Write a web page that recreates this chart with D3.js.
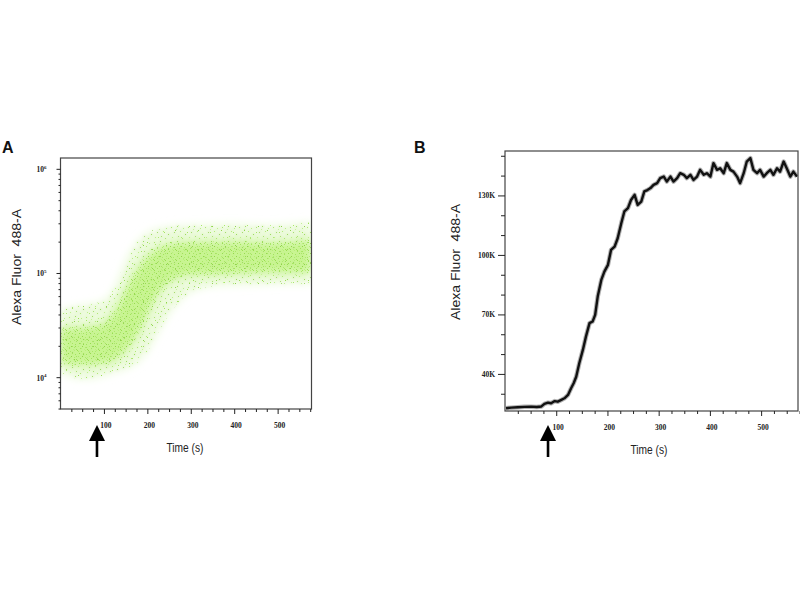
<!DOCTYPE html>
<html>
<head>
<meta charset="utf-8">
<script src="https://cdn.jsdelivr.net/npm/d3@7"></script>
<style>
  body { margin: 0; background: #fff; }
  svg { display: block; }
</style>
</head>
<body>
<div id="chart"></div>
<script>
// ---- Panel A: envelope of the dot cloud, Alexa Fluor 488-A (log) vs time ----
const timesA   = [0, 25, 50, 75, 100, 125, 150, 175, 200, 225, 250, 275, 300, 350, 400, 450, 500, 550, 578];
const outerHiA = [4.4e4, 4.7e4, 4.9e4, 5.1e4, 5.3e4, 6.8e4, 1.38e5, 1.99e5, 2.48e5, 2.67e5, 2.77e5, 2.87e5, 2.87e5, 2.92e5, 2.98e5, 2.87e5, 2.87e5, 2.98e5, 3.09e5];
const outerLoA = [1.12e4, 9.8e3, 9.6e3, 9.7e3, 1.03e4, 1.11e4, 1.19e4, 1.33e4, 1.69e4, 2.72e4, 4.08e4, 5.5e4, 6.8e4, 7.6e4, 7.6e4, 7.7e4, 7.9e4, 7.9e4, 7.9e4];
const coreHiA  = [3.0e4, 3.0e4, 3.0e4, 3.1e4, 3.2e4, 4.2e4, 7.1e4, 1.1e5, 1.48e5, 1.78e5, 1.91e5, 1.99e5, 2.0e5, 2.0e5, 2.05e5, 2.0e5, 1.95e5, 2.05e5, 2.1e5];
const coreLoA  = [1.35e4, 1.3e4, 1.3e4, 1.3e4, 1.35e4, 1.4e4, 1.75e4, 2.35e4, 3.9e4, 6.6e4, 8.2e4, 9.2e4, 9.5e4, 9.5e4, 9.8e4, 1.0e5, 1.0e5, 1.0e5, 1.0e5];
const yTicksA  = [1e4, 1e5, 1e6];
const yTickExpA = ["4", "5", "6"];

// ---- Panel B: mean fluorescence trace (thousands) ----
const timesB = [2, 12, 25, 38, 51, 62, 71, 77, 84, 90, 97, 103, 110, 116, 123, 129, 134, 139, 145, 152,
  158, 165, 171, 176, 181, 188, 194, 201, 207, 214, 220, 227, 233, 240, 246, 253, 259, 266, 272, 278,
  284, 290, 297, 303, 310, 316, 323, 329, 336, 342, 349, 355, 362, 368, 375, 381, 388, 394, 401, 407,
  414, 420, 427, 433, 440, 446, 453, 459, 466, 472, 479, 485, 492, 498, 505, 511, 518, 524, 531, 537,
  544, 550, 557, 563, 570];
const valuesB = [22.7, 23.0, 23.2, 23.4, 23.5, 23.3, 23.6, 24.9, 25.5, 25.2, 26.3, 26.0, 26.9, 27.7, 29.4, 32.8, 35.3, 38.6, 45.4, 52.1,
  58.8, 65.6, 66.4, 69.8, 79.0, 87.4, 91.6, 95.0, 102.5, 104.2, 108.4, 116.0, 121.9, 123.6, 127.7, 130.3, 125.2, 126.9, 132.0, 132.7,
  133.7, 135.3, 136.2, 138.7, 139.5, 137.0, 139.5, 137.0, 138.7, 141.2, 140.4, 138.7, 140.4, 137.8, 139.5, 142.9, 140.4, 141.2, 139.5, 146.3,
  142.9, 143.7, 141.2, 146.3, 142.9, 142.0, 139.5, 136.2, 141.2, 147.1, 148.8, 142.9, 141.2, 142.9, 139.5, 141.2, 142.9, 140.4, 143.7, 142.0,
  147.1, 143.7, 139.5, 142.0, 139.5];
const yTicksB = [40, 70, 100, 130];
const yTickLabelsB = ["40K", "70K", "100K", "130K"];

// shared
const xTicksMajor = [100, 200, 300, 400, 500];
const arrowTime = 84;   // stimulus added

const width = 800, height = 600;
const svg = d3.select("#chart").append("svg")
    .attr("width", width)
    .attr("height", height)
    .attr("viewBox", [0, 0, width, height]);
const defs = svg.append("defs");

// plot frames
const fA = {left: 60.5, right: 311.5, top: 158, bottom: 409};
const fB = {left: 505, right: 798, top: 151, bottom: 411};

const xA = d3.scaleLinear().domain([0, 578]).range([fA.left, fA.right]);
const yA = d3.scaleLog().domain([4950, 1.27e6]).range([fA.bottom, fA.top]);
const xB = d3.scaleLinear().domain([0, 572]).range([fB.left, fB.right]);
const yB = d3.scaleLinear().domain([21.3, 152.4]).range([fB.bottom, fB.top]);

// dot textures for the scatter cloud (style only)
function dotPattern(id, w, h, dots) {
    defs.append("pattern")
        .attr("id", id)
        .attr("patternUnits", "userSpaceOnUse")
        .attr("width", w)
        .attr("height", h)
      .selectAll("rect")
      .data(dots)
      .join("rect")
        .attr("x", d => d[0])
        .attr("y", d => d[1])
        .attr("width", 1)
        .attr("height", 1)
        .attr("fill", d => d[2]);
}
dotPattern("sparse1", 17, 15, [
    [1, 2, "#9fe35a"], [7, 1, "#8fd84a"], [13, 3, "#b2ec74"], [4, 7, "#96d457"], [10, 6, "#a8e866"],
    [15, 9, "#8bd544"], [2, 12, "#b6ee7c"], [8, 11, "#9ddc5e"], [12, 13, "#a2e35f"], [6, 4, "#c0f08e"]]);
dotPattern("sparse2", 23, 19, [
    [3, 4, "#a6e563"], [14, 2, "#93d650"], [20, 9, "#b0ea72"], [9, 14, "#9bdc57"], [17, 16, "#a9e86a"], [5, 17, "#8fd24e"]]);
dotPattern("dense", 11, 10, [
    [0, 0, "#93dc46"], [4, 1, "#a6e65e"], [8, 0, "#b4ee72"], [2, 3, "#8ed744"], [6, 3, "#a2e05a"],
    [9, 4, "#9ce252"], [1, 6, "#b0ea6e"], [5, 6, "#88d03f"], [8, 7, "#a8e864"], [3, 8, "#9fe056"],
    [7, 9, "#b8f07c"], [10, 9, "#94da4c"]]);

const soft = defs.append("filter").attr("id", "soft")
    .attr("x", "-20%").attr("y", "-20%").attr("width", "140%").attr("height", "140%");
soft.append("feGaussianBlur").attr("stdDeviation", 4);

const soft2 = defs.append("filter").attr("id", "soft2")
    .attr("x", "-20%").attr("y", "-20%").attr("width", "140%").attr("height", "140%");
soft2.append("feGaussianBlur").attr("stdDeviation", 1.5);

defs.append("clipPath").attr("id", "clipA").append("rect")
    .attr("x", fA.left).attr("y", fA.top)
    .attr("width", fA.right - fA.left).attr("height", fA.bottom - fA.top);
defs.append("clipPath").attr("id", "clipB").append("rect")
    .attr("x", fB.left).attr("y", fB.top)
    .attr("width", fB.right - fB.left).attr("height", fB.bottom - fB.top);

// ---------- Panel A ----------
const bandA = (lo, hi) => d3.area()
    .x((d, i) => xA(timesA[i]))
    .y0((d, i) => yA(lo[i]))
    .y1((d, i) => yA(hi[i]))
    .curve(d3.curveBasis)(timesA);

const cloud = svg.append("g").attr("clip-path", "url(#clipA)");
cloud.append("path").attr("d", bandA(outerLoA, outerHiA))
    .attr("fill", "#eefbdf").attr("filter", "url(#soft)");
cloud.append("path").attr("d", bandA(coreLoA, coreHiA))
    .attr("fill", "#c9f593").attr("filter", "url(#soft)");
cloud.append("g").attr("filter", "url(#soft2)").attr("opacity", 0.9)
    .append("path").attr("d", bandA(outerLoA, outerHiA)).attr("fill", "url(#sparse1)");
cloud.append("path").attr("d", bandA(outerLoA, outerHiA)).attr("fill", "url(#sparse1)").attr("opacity", 0.8);
cloud.append("path").attr("d", bandA(outerLoA, outerHiA)).attr("fill", "url(#sparse2)");
cloud.append("path").attr("d", bandA(coreLoA, coreHiA)).attr("fill", "url(#dense)").attr("opacity", 0.85);

// ---------- Panel B ----------
const lineB = d3.line()
    .x((d, i) => xB(timesB[i]))
    .y(d => yB(d));
const trace = svg.append("g").attr("clip-path", "url(#clipB)");
trace.append("path").attr("d", lineB(valuesB))
    .attr("fill", "none").attr("stroke", "#666").attr("stroke-opacity", 0.5)
    .attr("stroke-width", 4.5).attr("stroke-linejoin", "round");
trace.append("path").attr("d", lineB(valuesB))
    .attr("fill", "none").attr("stroke", "#111")
    .attr("stroke-width", 2.4).attr("stroke-linejoin", "round");

// ---------- frames ----------
[fA, fB].forEach(f => {
    svg.append("rect")
        .attr("x", f.left).attr("y", f.top)
        .attr("width", f.right - f.left).attr("height", f.bottom - f.top)
        .attr("fill", "none").attr("stroke", "#444").attr("stroke-width", 1.2);
});

// ---------- axes ----------
const minorX = d3.range(25, 576, 25).filter(d => d % 100 !== 0);

function styleAxis(g) {
    g.select(".domain").remove();
    g.selectAll(".tick line").attr("stroke", "#222").attr("stroke-width", 1);
    g.selectAll(".tick text")
        .attr("fill", "#222")
        .attr("font-family", "'Liberation Serif', serif")
        .attr("font-weight", "bold")
        .attr("font-size", 7.5);
}

function xAxes(x, bottom) {
    svg.append("g").attr("transform", `translate(0,${bottom})`)
        .call(d3.axisBottom(x).tickValues(minorX).tickSize(3).tickFormat(""))
        .call(styleAxis);
    svg.append("g").attr("transform", `translate(0,${bottom})`)
        .call(d3.axisBottom(x).tickValues(xTicksMajor).tickSize(5).tickPadding(9).tickFormat(d3.format("d")))
        .call(styleAxis)
        .call(g => g.selectAll(".tick text").attr("dx", 1.5));
}
xAxes(xA, fA.bottom);
xAxes(xB, fB.bottom);

// A: log y axis
const minorA = yA.ticks().filter(d => !yTicksA.includes(d));
svg.append("g").attr("transform", `translate(${fA.left},0)`)
    .call(d3.axisLeft(yA).tickValues(minorA).tickSize(2).tickFormat(""))
    .call(styleAxis);
svg.append("g").attr("transform", `translate(${fA.left},0)`)
    .call(d3.axisLeft(yA).tickValues(yTicksA).tickSize(4).tickPadding(10).tickFormat(""))
    .call(styleAxis)
    .call(g => g.selectAll(".tick text").each(function(d, i) {
        const t = d3.select(this).attr("dy", "0.4em");
        t.append("tspan").text("10");
        t.append("tspan").attr("font-size", 5).attr("dy", "-0.7em").text(yTickExpA[i]);
    }));

// B: linear y axis
const minorB = d3.range(30, 151, 10).filter(d => !yTicksB.includes(d));
svg.append("g").attr("transform", `translate(${fB.left},0)`)
    .call(d3.axisLeft(yB).tickValues(minorB).tickSize(4).tickFormat(""))
    .call(styleAxis);
svg.append("g").attr("transform", `translate(${fB.left},0)`)
    .call(d3.axisLeft(yB).tickValues(yTicksB).tickSize(7).tickPadding(3).tickFormat((d, i) => yTickLabelsB[i]))
    .call(styleAxis);

// ---------- titles ----------
const sans = "'Liberation Sans', Arial, sans-serif";

function xTitle(cx, baseline) {
    svg.append("text")
        .attr("x", cx).attr("y", baseline)
        .attr("text-anchor", "middle")
        .attr("font-family", sans).attr("font-size", 12.5).attr("fill", "#222")
        .attr("textLength", 37).attr("lengthAdjust", "spacingAndGlyphs")
        .text("Time (s)");
}
xTitle(185, 452);
xTitle(649, 454);

function yTitle(baseX, cy) {
    svg.append("text")
        .attr("transform", `translate(${baseX},${cy}) rotate(-90)`)
        .attr("text-anchor", "middle")
        .attr("font-family", sans).attr("font-size", 12.5).attr("fill", "#222")
        .attr("textLength", 116).attr("lengthAdjust", "spacingAndGlyphs")
        .style("white-space", "pre")
        .text("Alexa Fluor  488-A");
}
yTitle(20.5, 267);
yTitle(460, 262);

svg.append("text").attr("x", 2).attr("y", 153)
    .attr("font-family", sans).attr("font-weight", "bold").attr("font-size", 16).attr("fill", "#111")
    .text("A");
svg.append("text").attr("x", 414).attr("y", 153)
    .attr("font-family", sans).attr("font-weight", "bold").attr("font-size", 16).attr("fill", "#111")
    .text("B");

// ---------- stimulus arrows ----------
function arrow(x, tip) {
    const g = svg.append("g").attr("fill", "#000");
    g.append("path").attr("d", `M${x},${tip} L${x - 8},${tip + 16} L${x + 8},${tip + 16} Z`);
    g.append("rect").attr("x", x - 1.3).attr("y", tip + 15).attr("width", 2.6).attr("height", 17);
}
arrow(xA(arrowTime), 425);
arrow(xB(arrowTime), 425);
</script>
</body>
</html>
